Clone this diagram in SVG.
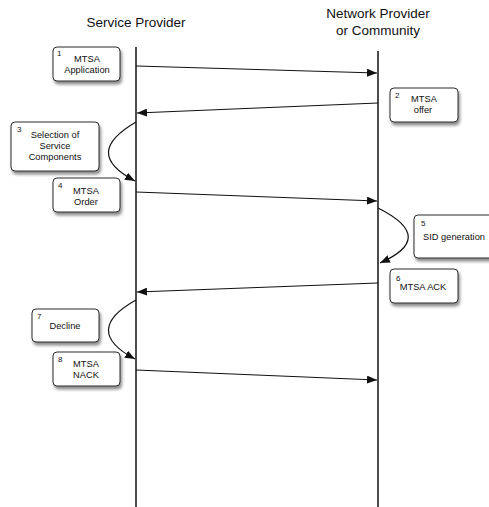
<svg xmlns="http://www.w3.org/2000/svg" width="489" height="507" viewBox="0 0 489 507">
  <style>
    .title { font-family: "Liberation Sans", Arial, sans-serif; font-size: 13.5px; fill: #111; text-anchor: middle; }
    .box { fill: #fff; stroke: #2a2a2a; stroke-width: 1; filter: url(#shadow); }
    .lbl { font-family: "Liberation Sans", Arial, sans-serif; font-size: 9.3px; fill: #111; text-anchor: middle; }
    .num { font-family: "Liberation Sans", Arial, sans-serif; font-size: 8px; fill: #111; }
    .life { stroke: #111; stroke-width: 1.5; fill: none; }
    .msg { stroke: #111; stroke-width: 1.2; fill: none; marker-end: url(#head); }
  </style>
  <defs>
    <filter id="shadow" x="-20%" y="-20%" width="150%" height="160%">
      <feDropShadow dx="1.5" dy="3" stdDeviation="1.8" flood-color="#000" flood-opacity="0.45"/>
    </filter>
    <marker id="head" markerUnits="userSpaceOnUse" markerWidth="10" markerHeight="8" refX="10" refY="4" orient="auto">
      <path d="M0,0 L10,4 L0,8 z" fill="#111"/>
    </marker>
  </defs>
  <rect width="489" height="507" fill="#fff"/>

  <!-- lane headings -->
  <text class="title" x="136" y="27">Service Provider</text>
  <text class="title" x="378" y="18">Network Provider</text>
  <text class="title" x="378" y="35">or Community</text>

  <!-- lifelines -->
  <g id="lifelines">
    <line class="life" x1="136" y1="47" x2="136" y2="507"/>
    <line class="life" x1="378" y1="51" x2="378" y2="507"/>
  </g>

  <!-- message connectors -->
  <g id="connectors">
    <path class="msg" d="M136,66 L377,73"/>
    <path class="msg" d="M378,103 L137,113"/>
    <path class="msg" d="M136,122 C100,143 99,162 135,181"/>
    <path class="msg" d="M136,192 L377,201"/>
    <path class="msg" d="M378,208 C420,229 416,247 380,263"/>
    <path class="msg" d="M378,283 L137,292"/>
    <path class="msg" d="M136,300 C100,320 99,340 135,359"/>
    <path class="msg" d="M136,370 L377,380"/>
  </g>

  <g id="step1">
    <rect class="box" x="53" y="47" width="67" height="34" rx="4"/>
    <text class="num" x="57" y="56">1</text>
    <text class="lbl" x="87" y="62">MTSA</text>
    <text class="lbl" x="87" y="73">Application</text>
  </g>
  <g id="step2">
    <rect class="box" x="390" y="88" width="68" height="34" rx="4"/>
    <text class="num" x="395" y="98">2</text>
    <text class="lbl" x="424" y="102">MTSA</text>
    <text class="lbl" x="423" y="113">offer</text>
  </g>
  <g id="step3">
    <rect class="box" x="11" y="122" width="88" height="49" rx="4"/>
    <text class="num" x="17" y="132">3</text>
    <text class="lbl" x="55" y="138">Selection of</text>
    <text class="lbl" x="55" y="149">Service</text>
    <text class="lbl" x="55" y="160">Components</text>
  </g>
  <g id="step4">
    <rect class="box" x="53" y="178" width="67" height="34" rx="4"/>
    <text class="num" x="58" y="188">4</text>
    <text class="lbl" x="86" y="194">MTSA</text>
    <text class="lbl" x="86" y="205">Order</text>
  </g>
  <g id="step5">
    <rect class="box" x="414" y="215" width="82" height="43" rx="4"/>
    <text class="num" x="421" y="226">5</text>
    <text class="lbl" x="423" y="240" style="text-anchor:start">SID generation</text>
  </g>
  <g id="step6">
    <rect class="box" x="390" y="269" width="68" height="34" rx="4"/>
    <text class="num" x="396" y="281">6</text>
    <text class="lbl" x="423" y="290">MTSA ACK</text>
  </g>
  <g id="step7">
    <rect class="box" x="32" y="309" width="67" height="33" rx="4"/>
    <text class="num" x="37" y="319">7</text>
    <text class="lbl" x="65" y="329">Decline</text>
  </g>
  <g id="step8">
    <rect class="box" x="53" y="352" width="67" height="34" rx="4"/>
    <text class="num" x="58" y="362">8</text>
    <text class="lbl" x="86" y="367">MTSA</text>
    <text class="lbl" x="86" y="378">NACK</text>
  </g>
</svg>
